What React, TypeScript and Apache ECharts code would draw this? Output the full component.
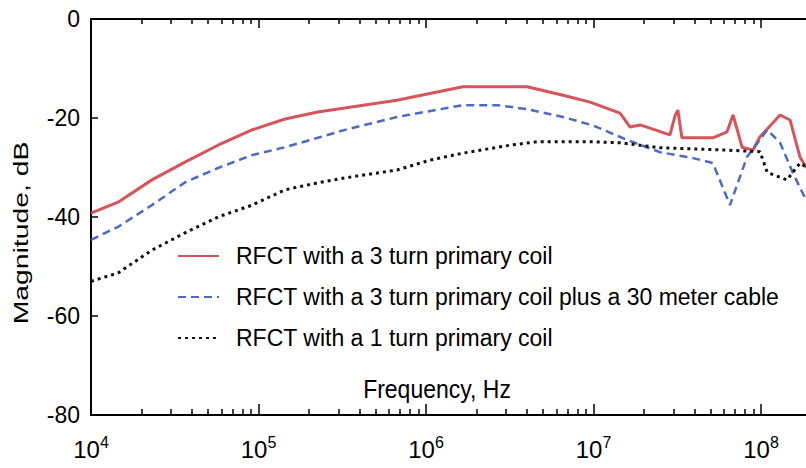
import React, { useEffect, useRef } from "react";
import * as echarts from "echarts";

// Frequencies in Hz, magnitudes in dB
const FREQ_RED = [1e4, 1.45e4, 2.31e4, 3.64e4, 5.73e4, 9.14e4, 1.44e5, 2.26e5, 3.28e5, 6.71e5, 1.66e6, 4.01e6, 6.58e6, 9.53e6, 1.44e7, 1.65e7, 1.9e7, 2.86e7, 3.07e7, 3.19e7, 3.37e7, 5.16e7, 6.27e7, 6.81e7, 7.71e7, 8.95e7, 9.86e7, 1.3e8, 1.49e8, 1.71e8, 1.86e8, 2.2e8];
const DB_RED = [-39.2, -37, -32.5, -28.9, -25.5, -22.4, -20.2, -18.8, -18.0, -16.4, -13.7, -13.7, -15.4, -16.8, -19, -21.8, -21.4, -23.4, -19.5, -18.4, -24, -24, -22.8, -19.4, -25.9, -26.5, -23.8, -19.4, -20.4, -27.9, -29.9, -31];

const FREQ_BLUE = [1e4, 1.45e4, 2.31e4, 3.64e4, 5.73e4, 9.14e4, 1.44e5, 2.26e5, 3.28e5, 6.71e5, 1.66e6, 2.65e6, 4.01e6, 6.58e6, 9.93e6, 1.58e7, 2.49e7, 3.93e7, 5.16e7, 6.53e7, 8.24e7, 1.09e8, 1.3e8, 1.55e8, 1.86e8, 2.2e8];
const DB_BLUE = [-44.6, -42, -37.6, -33, -30.1, -27.5, -25.9, -24, -22.4, -19.8, -17.4, -17.4, -18.2, -19.8, -21.5, -24.4, -26.9, -28.1, -29.1, -37.6, -27.9, -22.4, -25, -31.1, -36.6, -40];

const FREQ_BLACK = [1e4, 1.45e4, 2.31e4, 3.64e4, 5.73e4, 9.14e4, 1.44e5, 2.26e5, 3.28e5, 6.71e5, 1.06e6, 1.66e6, 3.17e6, 4.6e6, 9.53e6, 1.44e7, 2.49e7, 6.27e7, 9.86e7, 1.09e8, 1.43e8, 1.71e8, 1.86e8, 2.2e8];
const DB_BLACK = [-53, -51.3, -46.7, -43.2, -40, -37.6, -34.5, -33.1, -32.1, -30.5, -28.5, -27.1, -25.5, -24.8, -24.8, -25, -26, -26.5, -26.8, -31, -32.5, -29.1, -29.9, -30.5];

const SERIES_NAMES = [
  "RFCT with a 3 turn primary coil",
  "RFCT with a 3 turn primary coil plus a 30 meter cable",
  "RFCT with a 1 turn primary coil",
];

const DECADES = [4, 5, 6, 7, 8, 9];
const LABELLED_DECADES = [4, 5, 6, 7, 8];
const Y_TICKS = [-80, -60, -40, -20, 0];
const X_AXIS_NAME = "Frequency, Hz";
const Y_AXIS_NAME = "Magnitude, dB";

const FONT = "'Liberation Sans', Arial, Helvetica, sans-serif";

const toData = (f: number[], d: number[]) => f.map((v, i) => [Math.log10(v), d[i]]);

const minorTicks: number[] = [];
DECADES.slice(0, -1).forEach((e) => {
  for (let k = 2; k <= 9; k++) minorTicks.push(e + Math.log10(k));
});

export default function App() {
  const ref = useRef<HTMLDivElement>(null);
  useEffect(() => {
    document.body.style.margin = "0";
    const chart = echarts.init(ref.current!, null, { renderer: "svg" });
    const baseX = {
      type: "value" as const,
      min: 4,
      max: 9,
      splitLine: { show: false },
      axisLine: { show: true, onZero: false, lineStyle: { color: "#000", width: 2 } },
    };
    chart.setOption({
      animation: false,
      backgroundColor: "#fff",
      grid: { left: 91, top: 19, bottom: 53, right: -122.5, containLabel: false, outerBoundsMode: "none" },
      xAxis: [
        {
          ...baseX,
          position: "bottom",
          axisTick: { show: true, inside: true, length: 6, customValues: minorTicks, lineStyle: { color: "#000", width: 1.5 } },
          axisLabel: { show: false },
        },
        {
          ...baseX,
          position: "bottom",
          axisTick: { show: true, inside: true, length: 11, customValues: DECADES, lineStyle: { color: "#000", width: 1.5 } },
          axisLabel: {
            show: true,
            customValues: LABELLED_DECADES,
            margin: 19,
            formatter: (v: number) => `{b|10}{s|${Math.round(v)}}`,
            rich: {
              b: { fontFamily: FONT, fontSize: 24, color: "#000", lineHeight: 30 },
              s: { fontFamily: FONT, fontSize: 16, color: "#000", verticalAlign: "top", lineHeight: 14 },
            },
          },
        },
        {
          ...baseX,
          position: "top",
          axisTick: { show: true, inside: true, length: 5, customValues: minorTicks, lineStyle: { color: "#000", width: 1.5 } },
          axisLabel: { show: false },
        },
        {
          ...baseX,
          position: "top",
          axisTick: { show: true, inside: true, length: 9, customValues: DECADES, lineStyle: { color: "#000", width: 1.5 } },
          axisLabel: { show: false },
        },
      ],
      yAxis: [
        {
          type: "value",
          min: -80,
          max: 0,
          interval: 20,
          splitLine: { show: false },
          axisLine: { show: true, onZero: false, lineStyle: { color: "#000", width: 2 } },
          axisTick: { show: true, inside: true, length: 7, customValues: Y_TICKS, lineStyle: { color: "#000", width: 1.5 } },
          axisLabel: { show: true, margin: 11, fontFamily: FONT, fontSize: 23, color: "#000" },
        },
      ],
      legend: {
        show: true,
        orient: "vertical",
        left: 177,
        top: 237,
        padding: 0,
        itemWidth: 41,
        itemHeight: 10,
        itemGap: 3,
        data: SERIES_NAMES,
        itemStyle: { opacity: 0 },
        textStyle: { fontFamily: FONT, fontSize: 23, color: "#000", lineHeight: 30, padding: [8, 0, 0, 12] },
      },
      graphic: [
        {
          type: "text",
          x: 20,
          y: 233,
          rotation: Math.PI / 2,
          scaleX: 1.35,
          style: { text: Y_AXIS_NAME, font: `21px ${FONT}`, fill: "#000", align: "center", verticalAlign: "middle" },
        },
        {
          type: "text",
          x: 437,
          y: 389,
          scaleY: 1.15,
          style: { text: X_AXIS_NAME, font: `23px ${FONT}`, fill: "#000", align: "center", verticalAlign: "middle" },
        },
      ],
      series: [
        {
          name: SERIES_NAMES[0],
          type: "line",
          xAxisIndex: 0,
          symbol: "none",
          data: toData(FREQ_RED, DB_RED),
          lineStyle: { color: "#d6545a", width: 3, type: "solid" },
          itemStyle: { color: "#d6545a" },
        },
        {
          name: SERIES_NAMES[1],
          type: "line",
          xAxisIndex: 0,
          symbol: "none",
          data: toData(FREQ_BLUE, DB_BLUE),
          lineStyle: { color: "#4b6cc6", width: 2.5, type: [8, 5] },
          itemStyle: { color: "#4b6cc6" },
        },
        {
          name: SERIES_NAMES[2],
          type: "line",
          xAxisIndex: 0,
          symbol: "none",
          data: toData(FREQ_BLACK, DB_BLACK),
          lineStyle: { color: "#111", width: 3, type: [3, 4] },
          itemStyle: { color: "#111" },
        },
      ],
    });
    return () => chart.dispose();
  }, []);
  return <div ref={ref} style={{ width: 806, height: 468 }} />;
}
